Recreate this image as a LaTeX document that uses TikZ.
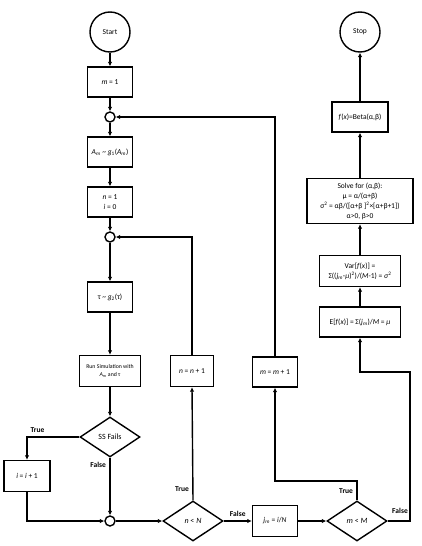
\documentclass[tikz,border=0pt]{standalone}
\usepackage{fontspec}
\setmainfont{Carlito}
\usepackage{tikz}
\usetikzlibrary{positioning}
\usetikzlibrary{shapes,arrows.meta}
\tikzstyle{box}=[draw=black,line width=1.4pt,rectangle,align=center,inner sep=1pt,font=\fontsize{7.5}{10}\selectfont]
\tikzstyle{term}=[draw=black,line width=1.4pt,circle,minimum size=40pt,inner sep=0pt,font=\fontsize{7.5}{9}\selectfont]
\tikzstyle{junc}=[draw=black,line width=1.4pt,circle,minimum size=10pt,inner sep=0pt]
\tikzstyle{decision}=[draw=black,line width=1.4pt,diamond,minimum width=60pt,minimum height=40pt,inner sep=0pt,font=\fontsize{8}{9}\selectfont]
\tikzstyle{lbl}=[font=\fontsize{7.5}{9}\selectfont\bfseries]

\begin{document}
\begin{tikzpicture}[x=1pt,y=-1pt,>={Latex[length=4.5pt,width=4.5pt]},line width=1.4pt]
    \useasboundingbox (0,0) rectangle (421,546);

    % main column
    \node[term] (start) at (110,32) {Start};
    \node[box, minimum width=45pt, minimum height=30pt] (m_one) at (110,82) {\textit{m} = 1};
    \node[junc] (join_m) at (110,117) {};
    \node[box, minimum width=45pt, minimum height=30pt] (a_m) at (110,152) {\textit{A}\textsubscript{\textit{m}} \textasciitilde{} \textit{g}\textsubscript{1}(\textit{A}\textsubscript{\textit{m}})};
    \node[box, minimum width=45pt, minimum height=30pt] (n_one) at (110,202) {\textit{n} = 1\\\textit{i} = 0};
    \node[junc] (join_n) at (110,237) {};
    \node[box, minimum width=45pt, minimum height=30pt] (tau) at (110,297) {τ \textasciitilde{} \textit{g}\textsubscript{2}(τ)};
    \node[box, minimum width=61pt, minimum height=31pt, font=\fontsize{5.8}{7.5}\selectfont] (run) at (110,371) {Run Simulation with\\\textit{A}\textsubscript{\textit{m}} and τ};
    \node[decision] (fails) at (110,437) {SS Fails};
    \node[box, minimum width=46pt, minimum height=31pt] (i_inc) at (27,476) {\textit{i} = \textit{i} + 1};
    \node[junc] (join_i) at (110,521) {};

    % inner loop
    \node[decision] (n_lt) at (193,521) {\textit{n} < \textit{N}};
    \node[box, minimum width=43pt, minimum height=31pt] (n_inc) at (192,371) {\textit{n} = \textit{n} + 1};
    \node[box, minimum width=45pt, minimum height=31pt] (j_m) at (275,521) {\textit{j}\textsubscript{\textit{m}} = \textit{i}/\textit{N}};

    % outer loop
    \node[decision] (m_lt) at (357,521) {\textit{m} < \textit{M}};
    \node[box, minimum width=45pt, minimum height=30pt] (m_inc) at (275,372) {\textit{m} = \textit{m} + 1};

    % right column
    \node[box, minimum width=81pt, minimum height=30pt] (expect) at (360,322) {E[\textit{f}(\textit{x})] = Σ(\textit{j}\textsubscript{\textit{m}})/\textit{M} = \textit{μ}};
    \node[box, minimum width=81pt, minimum height=31pt] (var) at (360,271) {Var[\textit{f}(\textit{x})] =\\Σ((\textit{j}\textsubscript{\textit{m}}-\textit{μ})\textsuperscript{2})/(\textit{M}-1) = \textit{σ}\textsuperscript{2}};
    \node[box, minimum width=106pt, minimum height=45pt] (solve) at (360,201) {Solve for (α,β):\\μ = α/(α+β)\\σ\textsuperscript{2} = αβ/([α+β ]\textsuperscript{2}×[α+β+1])\\α>0, β>0};
    \node[box, minimum width=56pt, minimum height=30pt] (beta) at (360,117) {\textit{f}(\textit{x})=Beta(α,β)};
    \node[term] (stop) at (360,32) {Stop};

    \coordinate (bend_m) at (357,481);
    \coordinate (bend_f) at (410,372);

    \draw[->] (start) -- (m_one);
    \draw[->] (m_one) -- (join_m);
    \draw[->] (join_m) -- (a_m);
    \draw[->] (a_m) -- (n_one);
    \draw[->] (n_one) -- (join_n);
    \draw[->] (join_n) -- (tau);
    \draw[->] (tau) -- (run);
    \draw[->] (run) -- (fails);
    \draw[->] (fails.west) -| (i_inc.north) node[lbl, pos=0.4, above] {True};
    \draw[->] (fails.south) -- (join_i) node[lbl, pos=0.12, left] {False};
    \draw[->] (i_inc.south) |- (join_i.west);
    \draw[->] (join_i) -- (n_lt.west);
    \draw[->] (n_lt.north) -- (n_inc.south) node[lbl, pos=0.1, left] {True};
    \draw[->] (n_inc.north) |- (join_n.east);
    \draw[->] (n_lt.east) -- (j_m.west) node[lbl, midway, above] {False};
    \draw[->] (j_m) -- (m_lt.west);
    \draw[->] (m_lt.north) -- (bend_m) node[lbl, midway, left] {True} -| (m_inc.south);
    \draw[->] (m_inc.north) |- (join_m.east);
    \draw[->] (m_lt.east) -| (bend_f) -| (expect.south);
    \node[lbl] (false_m) at (400,511) {False};
    \draw[->] (expect) -- (var);
    \draw[->] (var) -- (solve);
    \draw[->] (solve) -- (beta);
    \draw[->] (beta) -- (stop);
\end{tikzpicture}
\end{document}
